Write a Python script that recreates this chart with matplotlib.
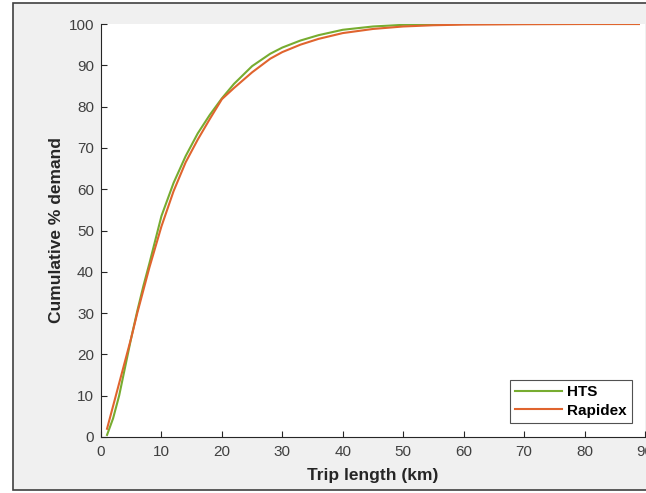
import matplotlib
matplotlib.use("Agg")
import numpy as np
from matplotlib import pyplot as plt
from matplotlib.patches import Rectangle

plt.rcParams['font.family'] = ['Liberation Sans', 'DejaVu Sans']

# trip length (km) vs cumulative % demand
hts_x = [1, 2, 3, 4, 5, 6, 7, 8, 10, 12, 14, 16, 18, 20, 22, 25, 28, 30, 33, 36, 40, 45, 50, 55, 60, 70, 80, 89]
hts_y = [0.5, 4.5, 10, 17, 24, 30.5, 36.5, 42, 53.5, 61.5, 68, 73.5, 78, 82, 85.5, 89.8, 92.8, 94.3, 96.0, 97.3, 98.6, 99.4, 99.8, 99.9, 100, 100, 100, 100]
rap_x = [1, 2, 3, 4, 5, 6, 7, 8, 10, 12, 14, 16, 18, 20, 22, 25, 28, 30, 33, 36, 40, 45, 50, 55, 60, 70, 80, 89]
rap_y = [2, 7.5, 13, 18.5, 24, 30, 35.5, 41, 51, 59.5, 66.5, 72, 77, 81.8, 84.5, 88.3, 91.6, 93.2, 95.0, 96.4, 97.8, 98.8, 99.4, 99.7, 99.85, 99.95, 100, 100]

fig = plt.figure(figsize=(6.46, 4.93), dpi=100, facecolor='white')
fig.patches.append(Rectangle((13/646, 3/493), 1.0, 487/493, transform=fig.transFigure,
                             facecolor='#f0f0f0', edgecolor='#404040', linewidth=1.2, zorder=-10))

ax = fig.add_axes([101/646, 1-437/493, 544/646, 413/493])
ax.set_facecolor('white')
ax.plot(hts_x, hts_y, color='#77AC30', linewidth=1.5, label='HTS')
ax.plot(rap_x, rap_y, color='#E0642E', linewidth=1.5, label='Rapidex')

ax.set_xlim(0, 90)
ax.set_ylim(0, 100)
ax.set_xticks(np.arange(0, 91, 10))
ax.set_yticks(np.arange(0, 101, 10))
ax.spines['top'].set_visible(False)
ax.spines['right'].set_visible(False)
for s in ['left', 'bottom']:
    ax.spines[s].set_color('#262626')
    ax.spines[s].set_linewidth(0.8)
ax.tick_params(direction='in', length=4, colors='#262626', labelsize=11, labelcolor='#404040')
ax.tick_params(axis='x', pad=6)
ax.tick_params(axis='y', pad=5)

ax.set_xlabel('Trip length (km)', fontsize=12.5, fontweight='bold', color='#262626', labelpad=6)
ax.set_ylabel('Cumulative % demand', fontsize=12.5, fontweight='bold', color='#262626', labelpad=3)

leg = ax.legend(loc='lower right', bbox_to_anchor=(0.976, 0.034), frameon=True, fancybox=False,
                prop={'weight': 'bold', 'size': 11}, handlelength=3.1, borderpad=0.35,
                labelspacing=0.3, handletextpad=0.3, borderaxespad=0.0)
leg.get_frame().set_edgecolor('#262626')
leg.get_frame().set_linewidth(0.8)

fig.savefig('out.png', dpi=100, facecolor=fig.get_facecolor())
